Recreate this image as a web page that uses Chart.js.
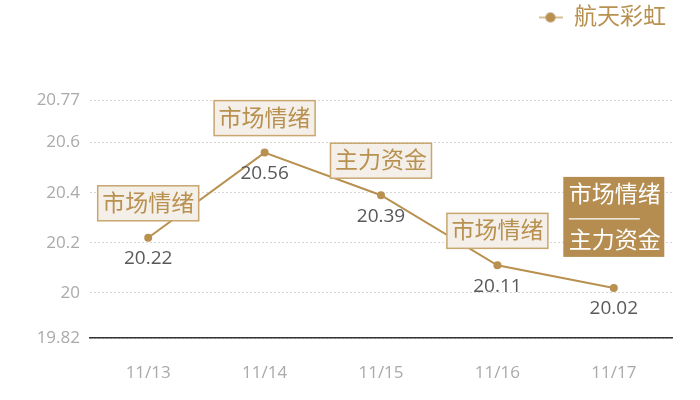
<!DOCTYPE html>
<html>
<head>
<meta charset="utf-8">
<script src="https://cdn.jsdelivr.net/npm/chart.js@4.4.0/dist/chart.umd.min.js"></script>
<style>
  html, body { margin: 0; padding: 0; background: #fff; }
  #wrap { width: 700px; height: 400px; }
</style>
</head>
<body>
<div id="wrap"><canvas id="chart"></canvas></div>
<script>
const dates = ['11/13', '11/14', '11/15', '11/16', '11/17'];
const prices = [20.22, 20.56, 20.39, 20.11, 20.02];
const yTicks = [19.82, 20, 20.2, 20.4, 20.6, 20.77];
const notes = [['市场情绪'], ['市场情绪'], ['主力资金'], ['市场情绪'], ['市场情绪', '主力资金']];
const seriesName = '航天彩虹';

const GOLD = '#b8904f';
const FONT = '"Open Sans", "Noto Sans CJK SC", sans-serif';

// legend marker: short line with a dot in the middle
const marker = document.createElement('canvas');
marker.width = 24;
marker.height = 12;
(function () {
    const c = marker.getContext('2d');
    c.strokeStyle = '#d9bf94';
    c.lineWidth = 2;
    c.beginPath();
    c.moveTo(0, 6);
    c.lineTo(24, 6);
    c.stroke();
    c.fillStyle = GOLD;
    c.beginPath();
    c.arc(12, 6, 5, 0, Math.PI * 2);
    c.fill();
})();

const labelsPlugin = {
    id: 'pointNotes',
    afterDatasetsDraw(chart) {
        const ctx = chart.ctx;
        const meta = chart.getDatasetMeta(0);
        ctx.save();
        meta.data.forEach((pt, i) => {
            // value under the point
            ctx.font = '19px ' + FONT;
            ctx.fillStyle = '#595959';
            ctx.textAlign = 'center';
            ctx.textBaseline = 'middle';
            ctx.fillText(prices[i].toFixed(2), pt.x, pt.y + 21);

            const lines = notes[i];
            ctx.font = '23px ' + FONT;
            const w = 101;
            if (lines.length === 1) {
                const h = 35;
                const top = pt.y - 17 - h;
                ctx.fillStyle = '#f4efe8';
                ctx.fillRect(pt.x - w / 2, top, w, h);
                ctx.strokeStyle = '#c9a66f';
                ctx.lineWidth = 1.5;
                ctx.strokeRect(pt.x - w / 2, top, w, h);
                ctx.fillStyle = GOLD;
                ctx.fillText(lines[0], pt.x, top + h / 2 + 1);
            } else {
                const h = 80;
                const top = pt.y - 31 - h;
                ctx.fillStyle = '#b58d50';
                ctx.fillRect(pt.x - w / 2, top, w, h);
                ctx.fillStyle = '#fff';
                ctx.fillText(lines[0], pt.x + 1, top + 19);
                ctx.fillText(lines[1], pt.x + 1, top + 65);
                ctx.strokeStyle = '#fff';
                ctx.lineWidth = 1.2;
                ctx.beginPath();
                ctx.moveTo(pt.x - 45, top + 42);
                ctx.lineTo(pt.x + 26, top + 42);
                ctx.stroke();
            }
        });
        ctx.restore();
    }
};

const legendSpace = {
    id: 'legendSpace',
    beforeInit(chart) {
        const fit = chart.legend.fit;
        chart.legend.fit = function () {
            fit.bind(chart.legend)();
            this.height = 100;
        };
    }
};

new Chart(document.getElementById('chart'), {
    type: 'line',
    data: {
        labels: dates,
        datasets: [{
            label: seriesName,
            data: prices,
            borderColor: GOLD,
            backgroundColor: GOLD,
            borderWidth: 2,
            pointRadius: 4,
            pointHoverRadius: 4,
            pointBackgroundColor: GOLD,
            pointBorderWidth: 0,
            tension: 0
        }]
    },
    options: {
        responsive: true,
        maintainAspectRatio: false,
        animation: false,
        layout: { padding: { top: 0, right: 28, bottom: 0, left: 0 } },
        plugins: {
            legend: {
                position: 'top',
                align: 'end',
                labels: {
                    usePointStyle: true,
                    pointStyleWidth: 24,
                    padding: 6,
                    color: GOLD,
                    font: { family: FONT, size: 23 },
                    generateLabels(chart) {
                        return [{
                            text: seriesName,
                            fontColor: GOLD,
                            pointStyle: marker,
                            hidden: false,
                            datasetIndex: 0,
                            lineWidth: 0
                        }];
                    }
                }
            },
            tooltip: { enabled: false }
        },
        scales: {
            x: {
                offset: true,
                grid: { display: false, drawTicks: false },
                border: { display: true, color: '#333', width: 1.5 },
                ticks: { color: '#aaa', font: { family: FONT, size: 17 }, padding: 25 },
                afterFit(scale) { scale.height = 62; }
            },
            y: {
                min: 19.82,
                max: 20.77,
                afterBuildTicks(scale) {
                    scale.ticks = yTicks.map(v => ({ value: v }));
                },
                grid: { color: '#d6d6d6', drawTicks: false, lineWidth: 1 },
                border: { display: false, dash: [2, 2] },
                ticks: {
                    color: '#aaa',
                    font: { family: FONT, size: 17 },
                    padding: 10,
                    callback: v => String(v)
                },
                afterFit(scale) { scale.width = 90; }
            }
        }
    },
    plugins: [labelsPlugin, legendSpace]
});
</script>
</body>
</html>
